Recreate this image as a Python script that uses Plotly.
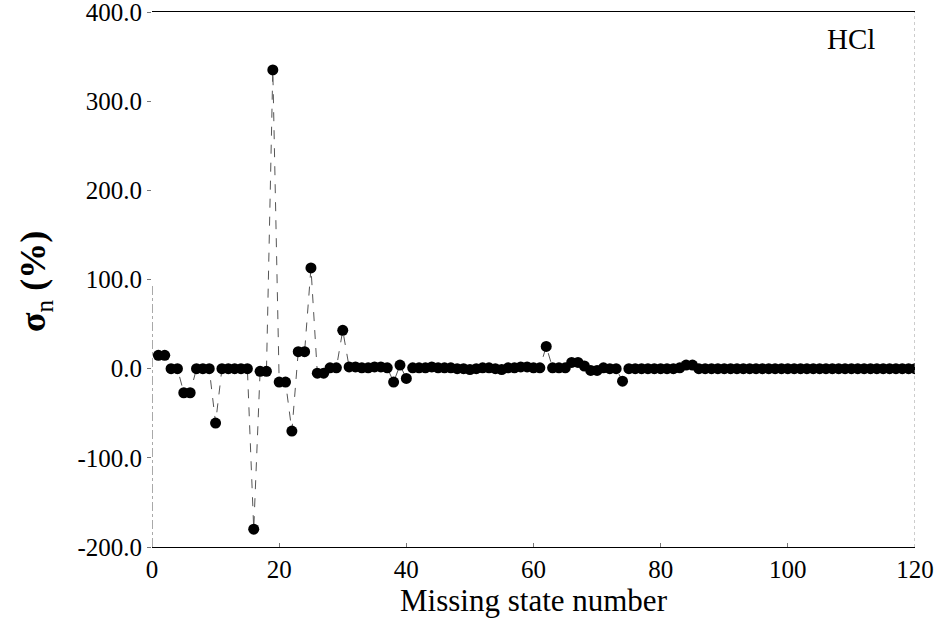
import plotly.graph_objects as go

state_number = list(range(1, 121))
sigma_n = [15, 15, 0, 0, -27, -27, 0, 0, 0, -61,
           0, 0, 0, 0, 0, -180, -3, -3, 335, -15,
           -15, -70, 19, 19, 113, -5, -5, 1, 1, 43,
           2, 2, 1, 1, 2, 2, 1, -15, 4, -11,
           1, 1, 1, 2, 1, 1, 1, 0, 0, -1,
           0, 1, 1, 0, -1, 1, 1, 2, 2, 1,
           1, 25, 1, 1, 1, 7, 7, 3, -2, -2,
           1, 0, 0, -14, 0, 0, 0, 0, 0, 0,
           0, 0, 1, 4, 4, 0, 0, 0, 0, 0,
           0, 0, 0, 0, 0, 0, 0, 0, 0, 0,
           0, 0, 0, 0, 0, 0, 0, 0, 0, 0,
           0, 0, 0, 0, 0, 0, 0, 0, 0, 0]

y_ticks = [-200, -100, 0, 100, 200, 300, 400]
y_tick_labels = ["-200.0", "-100.0", "0.0", "100.0", "200.0", "300.0", "400.0"]
x_ticks = [0, 20, 40, 60, 80, 100, 120]

serif = "Liberation Serif, Times New Roman, serif"

fig = go.Figure()
fig.add_trace(go.Scatter(
    x=state_number, y=sigma_n, mode="lines+markers",
    line=dict(color="#555555", width=1, dash="dash"),
    marker=dict(color="black", size=11),
    showlegend=False,
))

fig.update_layout(
    width=939, height=630,
    margin=dict(l=152, r=24, t=12, b=83, autoexpand=False),
    paper_bgcolor="white", plot_bgcolor="white",
    font=dict(family=serif, color="black", size=24),
    xaxis=dict(
        range=[0, 120], tickvals=x_ticks, showgrid=False, zeroline=False,
        showline=True, linecolor="black", linewidth=1, mirror=True,
        ticks="inside", ticklen=4, tickcolor="#777", automargin=False,
        ticklabeloverflow="allow",
        tickfont=dict(family=serif, size=25),
        title=dict(text="Missing state number", font=dict(family=serif, size=31), standoff=4),
    ),
    yaxis=dict(
        range=[-200, 400], tickvals=y_ticks, ticktext=y_tick_labels,
        showgrid=False, zeroline=False, showline=False, automargin=False,
        ticklabeloverflow="allow",
        ticks="outside", ticklen=4, tickcolor="#777",
        tickfont=dict(family=serif, size=25),
    ),
    shapes=[
        dict(type="line", xref="x", yref="y", x0=0, x1=0, y0=-200, y1=95,
             line=dict(color="#555555", width=1, dash="dashdot")),
        dict(type="line", xref="x", yref="y", x0=120, x1=120, y0=-200, y1=400,
             line=dict(color="#999999", width=1, dash="dot")),
    ],
    annotations=[
        dict(text="HCl", xref="paper", yref="paper", x=(877 - 152) / 763, y=(547 - 39) / 535,
             xanchor="right", yanchor="middle", showarrow=False,
             font=dict(family=serif, size=29)),
        dict(text="<b>σ</b><sub>n</sub><b> (%)</b>", xref="paper", yref="paper",
             x=(35 - 152) / 763, y=(547 - 282) / 535, textangle=-90,
             xanchor="center", yanchor="middle", showarrow=False,
             font=dict(family=serif, size=36)),
    ],
)

fig.write_html("out.html")
